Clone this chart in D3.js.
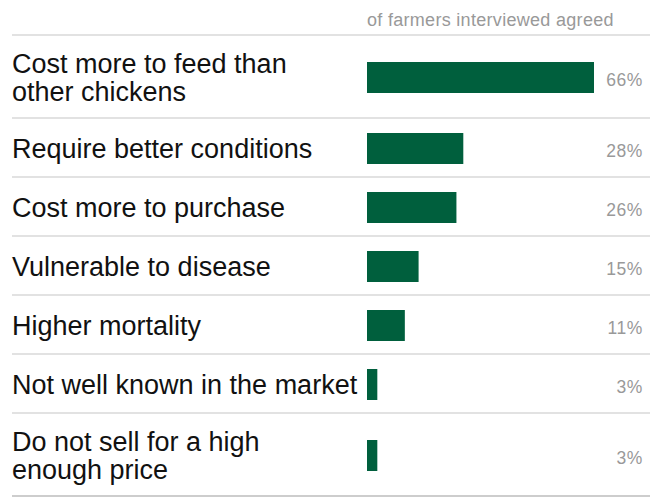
<!DOCTYPE html>
<html>
<head>
<meta charset="utf-8">
<script src="https://cdn.jsdelivr.net/npm/d3@7"></script>
<style>
  html, body { margin: 0; padding: 0; background: #fff; }
  svg { display: block; font-family: "Liberation Sans", Arial, Helvetica, sans-serif; }
</style>
</head>
<body>
<svg id="chart" width="661" height="503"></svg>
<script>
// ---- data ----
const categories = [
  ["Cost more to feed than", "other chickens"],
  ["Require better conditions"],
  ["Cost more to purchase"],
  ["Vulnerable to disease"],
  ["Higher mortality"],
  ["Not well known in the market"],
  ["Do not sell for a high", "enough price"]
];
const values = [66, 28, 26, 15, 11, 3, 3];
const valueLabels = ["66%", "28%", "26%", "15%", "11%", "3%", "3%"];
const headerText = "of farmers interviewed agreed";

(function () {
  const svg = d3.select("#chart");
  const lineX0 = 12, lineX1 = 650;
  const barX0 = 367;
  const valueRight = 643;
  const headerY = 35;
  const barH = 31;

  const x = d3.scaleLinear().domain([0, 66]).range([0, 227]);

  const rows = [];
  let rowTop = headerY;
  categories.forEach((lines, i) => {
    const h = 35 + 24 * lines.length;
    rows.push({ lines, value: values[i], label: valueLabels[i], top: rowTop, h, c: rowTop + h / 2 });
    rowTop += h;
  });

  svg.append("text")
    .attr("x", barX0).attr("y", 26)
    .attr("font-size", 18).attr("letter-spacing", 0.3)
    .attr("fill", "#999")
    .text(headerText);

  svg.append("line")
    .attr("x1", lineX0).attr("x2", lineX1)
    .attr("y1", headerY).attr("y2", headerY)
    .attr("stroke", "#d9d9d9").attr("stroke-width", 1.5);

  const g = svg.selectAll("g.row").data(rows).join("g").attr("class", "row");

  g.append("line")
    .attr("x1", lineX0).attr("x2", lineX1)
    .attr("y1", d => d.top + d.h).attr("y2", d => d.top + d.h)
    .attr("stroke", (d, i) => i === rows.length - 1 ? "#bdbdbd" : "#d9d9d9")
    .attr("stroke-width", 1.5);

  g.append("rect")
    .attr("x", barX0)
    .attr("y", d => d.c + 1 - barH / 2)
    .attr("width", d => x(d.value))
    .attr("height", barH)
    .attr("fill", "#005f3d");

  g.each(function (d) {
    const n = d.lines.length;
    const t = d3.select(this).append("text")
      .attr("x", lineX0)
      .attr("font-size", 27)
      .attr("fill", "#111");
    d.lines.forEach((ln, j) => {
      const y = n === 1 ? d.c + 10 : d.c - 3.5 + 28 * j;
      t.append("tspan").attr("x", lineX0).attr("y", y).text(ln);
    });
  });

  g.append("text")
    .attr("x", valueRight)
    .attr("y", d => d.c + 1 + 8)
    .attr("text-anchor", "end")
    .attr("font-size", 17.5).attr("letter-spacing", 0.6)
    .attr("fill", "#999")
    .text(d => d.label);
})();
</script>
</body>
</html>
